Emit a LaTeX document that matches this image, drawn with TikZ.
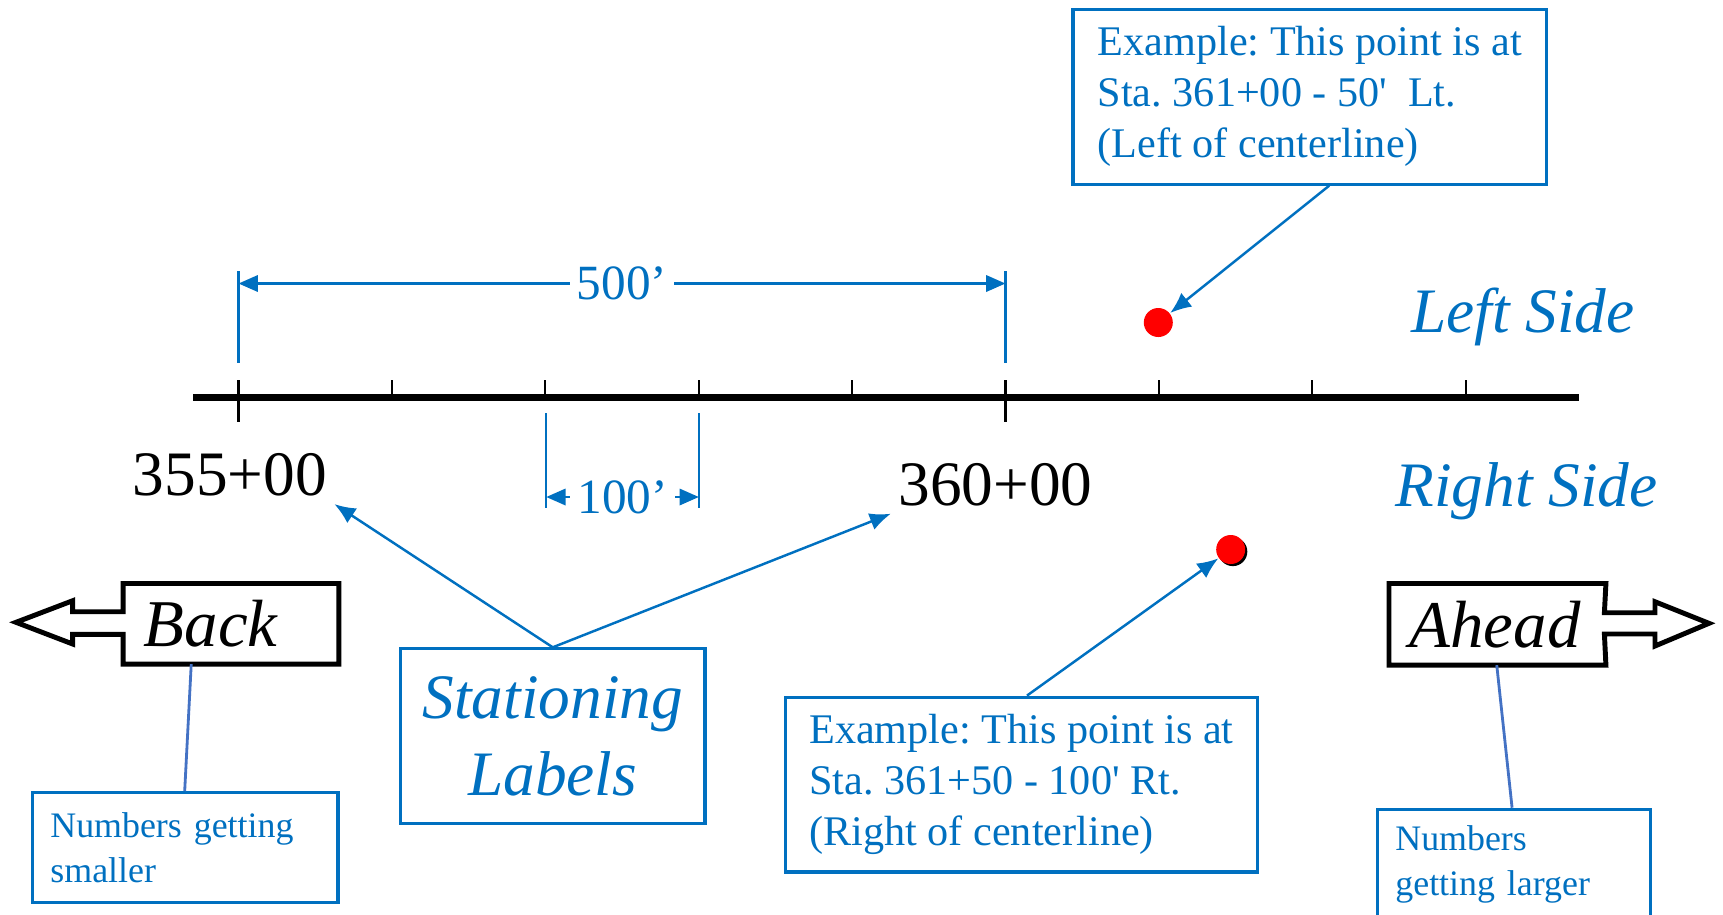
\documentclass[tikz,border=0pt]{standalone}
\usepackage{fontspec}
\setmainfont{Liberation Serif}
\usetikzlibrary{arrows.meta,positioning,shadows}
\definecolor{stablue}{HTML}{0070C0}
\definecolor{leaderblue}{HTML}{4472C4}

\begin{document}
\frenchspacing
\begin{tikzpicture}[x=0.01cm, y=-0.01cm, >={Latex[length=6pt,width=5pt]},
    every node/.style={inner sep=0pt},
    stalabel/.style={font=\fontsize{18}{21.6}\selectfont, inner sep=2pt},
    sidelabel/.style={font=\fontsize{18}{21.6}\selectfont\itshape, text=stablue},
    dimlabel/.style={font=\fontsize{14}{16.8}\selectfont, text=stablue, fill=white, inner xsep=2pt, inner ysep=1pt},
    dimline/.style={stablue, line width=0.8pt, {Triangle[length=5.5pt,width=4.6pt]}-{Triangle[length=5.5pt,width=4.6pt]}},
    extline/.style={stablue, line width=0.6pt},
    tickmark/.style={black, line width=0.6pt},
    notebox/.style={draw=stablue, line width=0.9pt, text=stablue, anchor=north west, inner xsep=0.18cm, inner ysep=0pt, align=left, font=\fontsize{12}{14.5}\selectfont},
    smallnote/.style={notebox, font=\fontsize{10.2}{12.8}\selectfont, minimum height=1.098cm},
    dirlabel/.style={font=\fontsize{19}{23}\selectfont\itshape, anchor=north west, inner xsep=0.2cm, align=left},
    dirarrow/.style={line width=1.4pt, line join=miter},
    pointer/.style={stablue, line width=0.7pt, ->},
    leader/.style={leaderblue, line width=0.8pt},
    stapoint/.style={circle, fill=red, minimum size=0.29cm}]
    \useasboundingbox (0,0) rectangle (1723,914);
    \coordinate (clwest) at (193.4,397.8);
    \coordinate (cleast) at (1579,397.8);
    \foreach \i in {0,...,8} \draw[tickmark] (238.5+153.4*\i,397.8) -- ++(0,-17.6);
    \foreach \i in {0,5} \draw[tickmark] (238.5+153.4*\i,397.8) -- ++(0,24);
    \draw[line width=1.9pt] (clwest) -- (cleast);
    \draw[extline] (238.5,271) -- (238.5,362.6);
    \draw[extline] (1005.5,271) -- (1005.5,362.6);
    \coordinate (dima) at (238.5,283.5);
    \coordinate (dimb) at (1005.5,283.5);
    \draw[dimline] (dima) -- node[dimlabel] (lbl500) {500’} (dimb);
    \draw[extline] (546.2,413) -- (546.2,508);
    \draw[extline] (698.9,413) -- (698.9,508);
    \coordinate (dimc) at (546.2,497);
    \coordinate (dimd) at (698.9,497);
    \draw[dimline] (dimc) -- node[dimlabel] (lbl100) {100’} (dimd);
    \node[stalabel] (sta355) at (229.7,475) {355+00};
    \node[stalabel] (sta360) at (995.6,484.6) {360+00};
    \node[sidelabel] (leftside) at (1523,316.5) {Left Side};
    \node[sidelabel] (rightside) at (1526.4,491.2) {Right Side};
    \node[stapoint] (ptleft) at (1158.3,322.5) {};
    \node[stapoint, general shadow={fill=black, shadow xshift=0.6pt, shadow yshift=-0.6pt}] (ptright) at (1230.7,549.5) {};
    \node[notebox, minimum width=4.736cm, minimum height=1.747cm] (exleft) at (1071.4,7.7) {Example: This point is at\\Sta. 361+00 - 50\textquotesingle\ \ Lt.\\(Left of centerline)};
    \node[notebox, minimum width=4.725cm, minimum height=1.747cm] (exright) at (783.5,695.6) {Example: This point is at\\Sta. 361+50 - 100\textquotesingle\ Rt.\\(Right of centerline)};
    \node[notebox, inner xsep=0.1cm, text width=2.844cm, minimum height=1.747cm, align=center, font=\fontsize{18}{21.8}\selectfont\itshape] (statlbl) at (398.9,647.3) {Stationing\\Labels};
    \node[smallnote, text width=2.695cm] (smaller) at (30.8,791.2) {Numbers getting\\smaller};
    \node[smallnote, text width=2.366cm] (larger) at (1375.8,807.7) {Numbers\\getting larger};
    \node[dirlabel, text width=1.743cm, minimum height=0.791cm] (back) at (123.1,583.5) {Back};
    \node[dirlabel, text width=1.754cm, minimum height=0.802cm] (ahead) at (1389,583.5) {Ahead};
    \draw[dirarrow] (back.north east) -- (back.north west) -- (123.1,611.7) -- (72.7,611.7) -- (72.7,600.7) -- (16,622.3) -- (72.7,644) -- (72.7,634.3) -- (123.1,634.3) -- (back.south west) -- (back.south east) -- cycle;
    \draw[dirarrow] (ahead.north west) -- (ahead.north east) -- (1604.4,612.7) -- (1655,612.7) -- (1655,601.7) -- (1709,623.3) -- (1655,646) -- (1655,634) -- (1604.4,634) -- (ahead.south east) -- (ahead.south west) -- cycle;
    \draw[pointer] ([xshift=0.193cm]exleft.south) -- (ptleft);
    \draw[pointer] ([xshift=0.055cm]exright.north) -- (ptright);
    \draw[pointer] (statlbl.north) -- (sta355.south east);
    \draw[pointer] (statlbl.north) -- (sta360.south west);
    \draw[leader] ([xshift=0.681cm]back.south west) -- ([xshift=1.538cm]smaller.north west);
    \draw[leader] ([xshift=1.077cm]ahead.south west) -- ([xshift=1.362cm]larger.north west);
\end{tikzpicture}
\end{document}
